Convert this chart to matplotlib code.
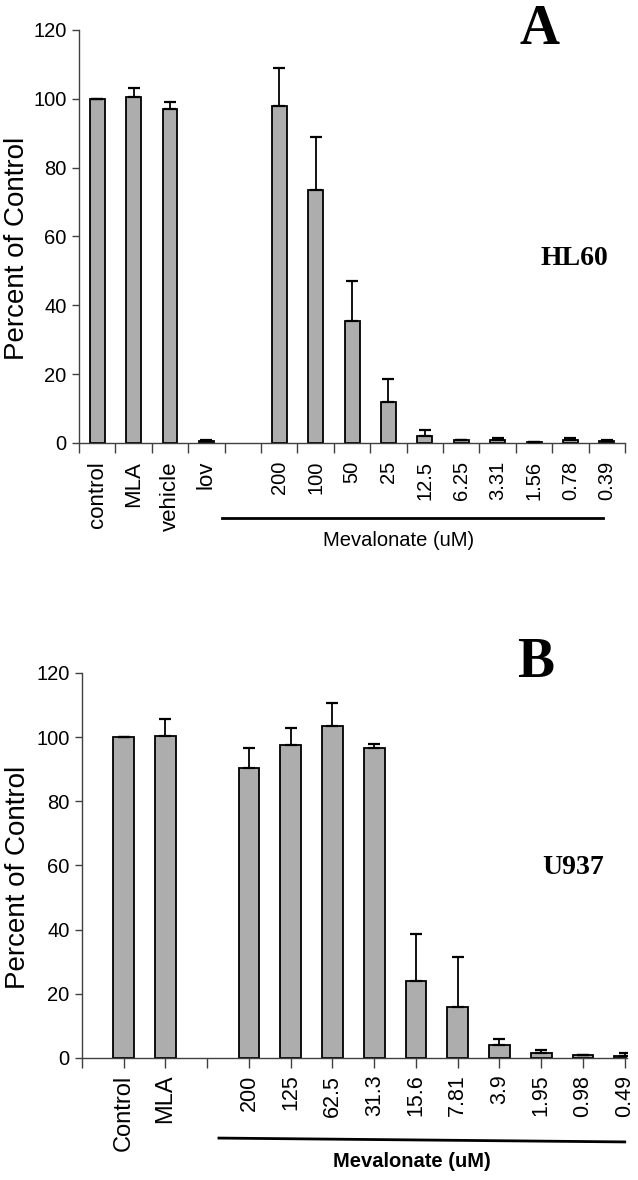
import numpy as np
import matplotlib
matplotlib.use("Agg")
import matplotlib.pyplot as plt

# panel A (HL60)
labels_a = ["control", "MLA", "vehicle", "lov", "", "200", "100", "50", "25",
            "12.5", "6.25", "3.31", "1.56", "0.78", "0.39"]
values_a = [100, 100.5, 97, 0.5, np.nan, 98, 73.5, 35.5, 12, 2, 1, 1, 0.3, 1, 0.5]
err_a = [0, 2.5, 2, 0.5, 0, 11, 15.5, 11.5, 6.5, 1.7, 0, 0.5, 0, 0.5, 0.5]

# panel B (U937)
labels_b = ["Control", "MLA", "", "200", "125", "62.5", "31.3", "15.6", "7.81",
            "3.9", "1.95", "0.98", "0.49"]
values_b = [100, 100.5, np.nan, 90.5, 97.5, 103.5, 96.5, 24, 16, 4, 1.5, 1, 0.5]
err_b = [0, 5, 0, 6, 5.5, 7, 1.5, 14.5, 15.5, 2, 1, 0, 1]

yticks = [0, 20, 40, 60, 80, 100, 120]

SANS = ["Liberation Sans", "DejaVu Sans"]
SERIF = ["Liberation Serif", "DejaVu Serif"]
BAR = "#adadad"
AX = "#404040"

fig = plt.figure(figsize=(6.38, 11.8), dpi=100)


def draw_panel(ax, labels, values, errs, width):
    x = np.arange(len(labels))
    v = np.array(values, dtype=float)
    e = np.array(errs, dtype=float)
    ok = np.isfinite(v)
    ax.bar(x[ok], v[ok], width=width, color=BAR, edgecolor="black",
           linewidth=1.3, zorder=2)
    ax.errorbar(x[ok], v[ok], yerr=[np.zeros(ok.sum()), e[ok]], fmt="none",
                ecolor="black", elinewidth=1.3, capsize=4, capthick=1.6, zorder=3)
    ax.set_ylim(0, 120)
    ax.set_yticks(yticks)
    for lab in ax.get_yticklabels():
        lab.set_family(SANS)
        lab.set_fontsize(14.5)
    for s in ["top", "right"]:
        ax.spines[s].set_visible(False)
    for s in ["left", "bottom"]:
        ax.spines[s].set_color(AX)
        ax.spines[s].set_linewidth(1.0)
    ax.tick_params(axis="y", direction="out", length=5, width=1, color=AX, pad=4)
    ax.set_ylabel("Percent of Control", family=SANS, fontsize=20, va="center")
    return x


def size_labels(ax, word_size, num_size):
    for lab in ax.get_xticklabels():
        t = lab.get_text()
        lab.set_fontsize(word_size if any(c.isalpha() for c in t) else num_size)


# ---- A ----
ax1 = fig.add_axes([0.1238, 0.6246, 0.856, 0.35])
x1 = draw_panel(ax1, labels_a, values_a, err_a, 0.41)
ax1.yaxis.set_label_coords(-0.113, 0.47)
ax1.set_xlim(-0.5, len(labels_a) - 0.5)
ax1.set_xticks(x1)
ax1.set_xticklabels(labels_a, rotation=90, family=SANS)
size_labels(ax1, 16, 14.5)
ax1.set_xticks(np.arange(-0.5, len(labels_a)), minor=True)
ax1.tick_params(axis="x", which="major", length=0, pad=13)
ax1.tick_params(axis="x", which="minor", direction="out", length=7, width=1, color=AX)
ax1.plot([3.43, 13.9], [-0.182, -0.182], color="black", lw=2,
         transform=ax1.get_xaxis_transform(), clip_on=False)
ax1.text(8.29, -0.235, "Mevalonate (uM)", transform=ax1.get_xaxis_transform(),
         ha="center", va="center", family=SANS, fontsize=14.5)
ax1.text(0.844, 1.0, "A", transform=ax1.transAxes, ha="center", va="center",
         family=SERIF, fontweight="bold", fontsize=40)
ax1.text(0.907, 0.4455, "HL60", transform=ax1.transAxes, ha="center", va="center",
         family=SERIF, fontweight="bold", fontsize=20)

# ---- B ----
ax2 = fig.add_axes([0.1285, 0.1034, 0.854, 0.3263])
x2 = draw_panel(ax2, labels_b, values_b, err_b, 0.5)
ax2.yaxis.set_label_coords(-0.118, 0.47)
ax2.set_xlim(-1, len(labels_b) - 0.95)
ax2.set_xticks(np.arange(-1, len(labels_b)))
ax2.set_xticklabels([""] + labels_b, rotation=90, family=SANS)
size_labels(ax2, 17, 15.5)
ax2.tick_params(axis="x", direction="out", length=7, width=1, color=AX, pad=5)
ax2.plot([2.28, 12.0], [-0.208, -0.218], color="black", lw=2,
         transform=ax2.get_xaxis_transform(), clip_on=False)
ax2.text(6.9, -0.27, "Mevalonate (uM)", transform=ax2.get_xaxis_transform(),
         ha="center", va="center", family=SANS, fontweight="bold", fontsize=14.5)
ax2.text(0.833, 1.026, "B", transform=ax2.transAxes, ha="center", va="center",
         family=SERIF, fontweight="bold", fontsize=40)
ax2.text(0.901, 0.496, "U937", transform=ax2.transAxes, ha="center", va="center",
         family=SERIF, fontweight="bold", fontsize=20)

fig.savefig("out.png", dpi=100)
